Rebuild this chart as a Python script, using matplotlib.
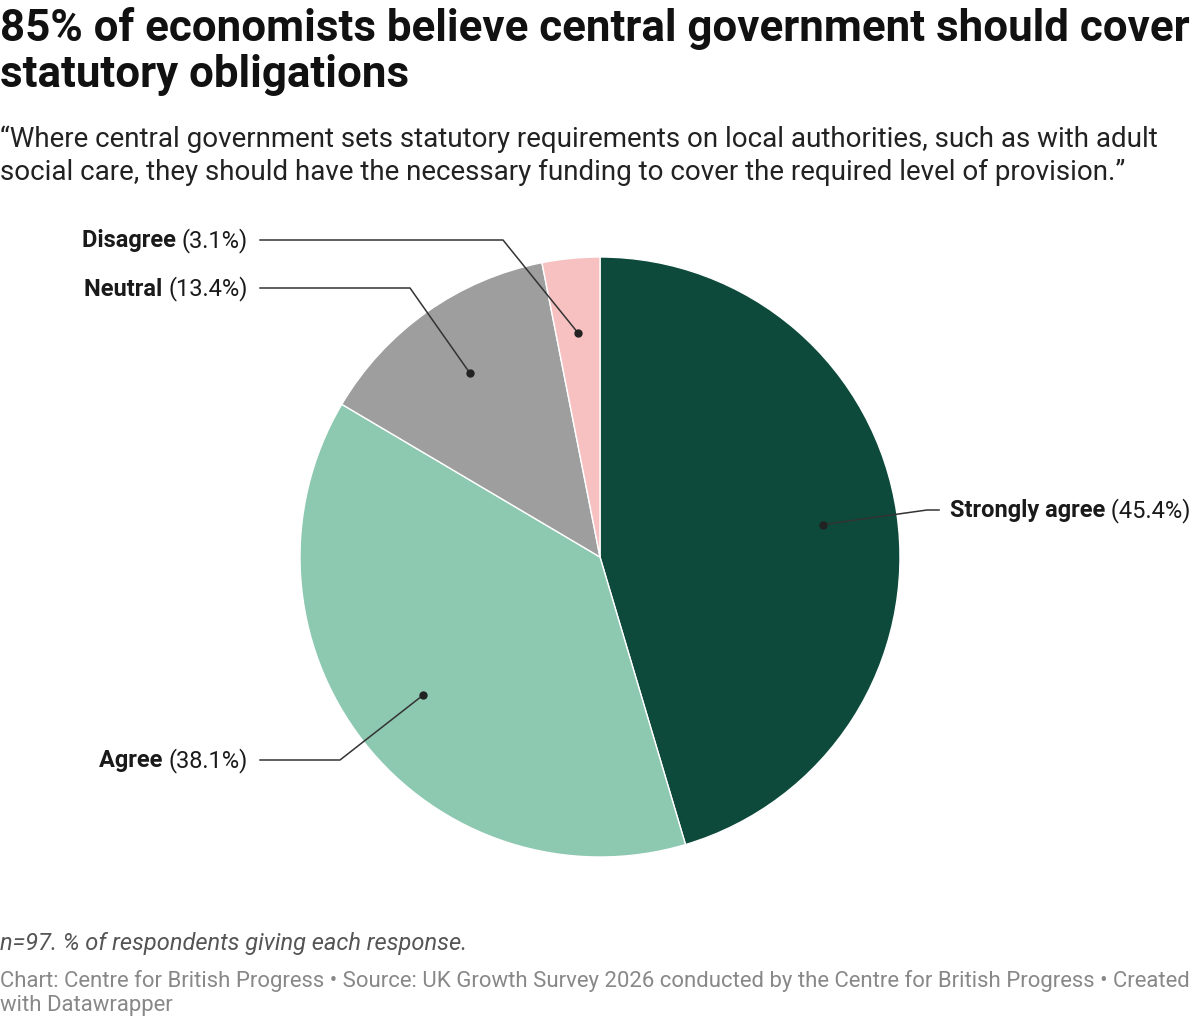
import matplotlib
matplotlib.use("Agg")
import matplotlib.pyplot as plt
import numpy as np

plt.rcParams['font.family'] = ['Roboto', 'DejaVu Sans']

# data
labels = ["Strongly agree", "Agree", "Neutral", "Disagree"]
shares = [45.4, 38.1, 13.4, 3.1]
colors = ["#0d4a3b", "#8dc8b1", "#9e9e9e", "#f7c1c1"]

W, H = 1200, 1020
fig = plt.figure(figsize=(W / 100, H / 100), dpi=100)
ax = fig.add_axes([0, 0, 1, 1])

cx, cy, R = 600, H - 558, 300
wedges, _ = ax.pie(shares, colors=colors, startangle=90, counterclock=False,
                   center=(cx, cy), radius=R, frame=True,
                   wedgeprops=dict(edgecolor='white', linewidth=1))
ax.set_xlim(0, W)
ax.set_ylim(0, H)
ax.set_aspect('equal')
ax.axis('off')

# label layout: (label y in px from top, elbow x, line end x, side)
layout = {
    "Strongly agree": (511, 927, 939, 'right'),
    "Agree": (761, 340, 260, 'left'),
    "Neutral": (289, 410, 260, 'left'),
    "Disagree": (241, 503, 260, 'left'),
}
fs = 17

for w, lab, v in zip(wedges, labels, shares):
    mid = np.deg2rad((w.theta1 + w.theta2) / 2)
    dx, dy = cx + 0.75 * R * np.cos(mid), cy + 0.75 * R * np.sin(mid)
    ly, ex, lx, side = layout[lab]
    ly = H - ly
    ax.plot([dx, ex, lx], [dy, ly, ly], color='#333333', lw=1.1, zorder=5)
    ax.plot(dx, dy, 'o', color='#222222', ms=5, zorder=6)
    if side == 'right':
        t = ax.text(lx + 11, ly, lab, fontsize=fs, fontweight='bold',
                    color='#1a1a1a', ha='left', va='center')
        fig.canvas.draw()
        bb = t.get_window_extent()
        ax.annotate(f" ({v}%)", xy=(bb.x1, ly), xycoords=('figure pixels', 'data'),
                    fontsize=fs, color='#1a1a1a', ha='left', va='center')
    else:
        t = ax.text(lx - 12, ly, f"({v}%)", fontsize=fs, color='#1a1a1a',
                    ha='right', va='center')
        fig.canvas.draw()
        bb = t.get_window_extent()
        ax.annotate(lab + " ", xy=(bb.x0, ly), xycoords=('figure pixels', 'data'),
                    fontsize=fs, fontweight='bold', color='#1a1a1a',
                    ha='right', va='center')

fig.text(0, 1 - 7 / H, "85% of economists believe central government should cover\nstatutory obligations",
         fontsize=31.6, fontweight='bold', color='#111111', va='top', ha='left',
         linespacing=1.13)
fig.text(0, 1 - 125 / H,
         "\u201cWhere central government sets statutory requirements on local authorities, such as with adult\n"
         "social care, they should have the necessary funding to cover the required level of provision.\u201d",
         fontsize=20, color='#222222', va='top', ha='left', linespacing=1.3)
fig.text(0, 1 - 932 / H, "n=97. % of respondents giving each response.",
         fontsize=17, style='italic', color='#555555', va='top', ha='left')
fig.text(0, 1 - 970 / H,
         "Chart: Centre for British Progress \u2022 Source: UK Growth Survey 2026 conducted by the Centre for British Progress \u2022 Created\n"
         "with Datawrapper",
         fontsize=15.9, color='#888888', va='top', ha='left', linespacing=1.2)

fig.savefig("out.png", dpi=100, facecolor='white')
